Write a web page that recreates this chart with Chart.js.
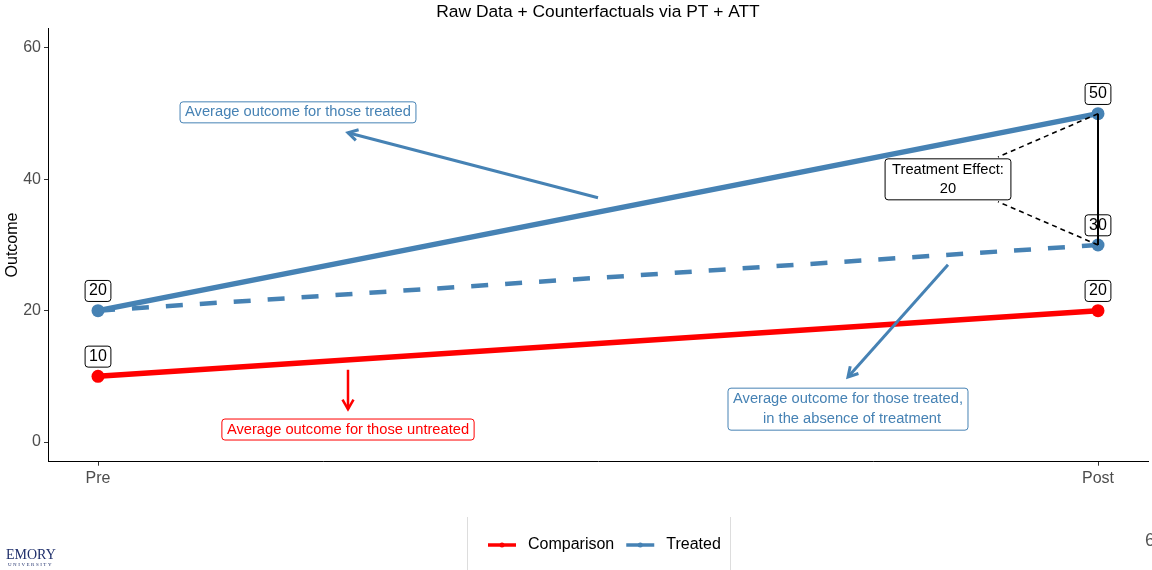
<!DOCTYPE html>
<html>
<head>
<meta charset="utf-8">
<script src="https://cdn.jsdelivr.net/npm/chart.js@4.4.1/dist/chart.umd.min.js"></script>
<style>
  html, body { margin: 0; padding: 0; background: #ffffff; }
  #wrap { position: relative; width: 1152px; height: 570px; }
</style>
</head>
<body>
<div id="wrap"><canvas id="chart" width="1152" height="570"></canvas></div>
<script>
// Periods on the x axis and the group means in each period
const categories = ['Pre', 'Post'];
const comparison = [10, 20];
const treated = [20, 50];
const counterfactual = [20, 30];
const yTicks = [0, 20, 40, 60];

const chartTitle = 'Raw Data + Counterfactuals via PT + ATT';

// Annotation text and anchors (data units: x = period index, y = outcome)
const treatedNote = { text: ['Average outcome for those treated'], x: 0.2, y: 50.2 };
const treatedArrow = { from: [0.5, 37.2], to: [0.25, 47.1] };
const untreatedNote = { text: ['Average outcome for those untreated'], x: 0.25, y: 1.9 };
const untreatedArrow = { from: [0.25, 11.0], to: [0.25, 5.0] };
const cfNote = { text: ['Average outcome for those treated,', '  in the absence of treatment'], x: 0.75, y: 5.0 };
const cfArrow = { from: [0.85, 27.0], to: [0.75, 9.9] };
const effectNote = { text: ['Treatment Effect:', String(treated[1] - counterfactual[1])], x: 0.85, y: 40.0 };

const BLUE = '#4682B4';
const RED = '#FF0000';
const FONT = '"Liberation Sans", Arial, Helvetica, sans-serif';

const toPts = arr => arr.map((v, i) => ({ x: i, y: v }));

function roundRect(ctx, x, y, w, h, r) {
  ctx.beginPath();
  ctx.moveTo(x + r, y);
  ctx.lineTo(x + w - r, y);
  ctx.quadraticCurveTo(x + w, y, x + w, y + r);
  ctx.lineTo(x + w, y + h - r);
  ctx.quadraticCurveTo(x + w, y + h, x + w - r, y + h);
  ctx.lineTo(x + r, y + h);
  ctx.quadraticCurveTo(x, y + h, x, y + h - r);
  ctx.lineTo(x, y + r);
  ctx.quadraticCurveTo(x, y, x + r, y);
  ctx.closePath();
}

// Boxed text label centred on (cx, cy)
function labelBox(ctx, lines, cx, cy, color, size, padX, padY, lineH) {
  ctx.save();
  ctx.font = size + 'px ' + FONT;
  let w = 0;
  lines.forEach(l => { w = Math.max(w, ctx.measureText(l).width); });
  const bw = w + padX * 2;
  const bh = lines.length * lineH + padY * 2;
  const x = cx - bw / 2, y = cy - bh / 2;
  roundRect(ctx, x, y, bw, bh, 3);
  ctx.fillStyle = '#ffffff';
  ctx.fill();
  ctx.lineWidth = 1;
  ctx.strokeStyle = color;
  ctx.stroke();
  ctx.fillStyle = color;
  ctx.textAlign = 'center';
  ctx.textBaseline = 'middle';
  lines.forEach((l, i) => {
    ctx.fillText(l, cx, y + padY + lineH * (i + 0.5));
  });
  ctx.restore();
  return { x, y, w: bw, h: bh };
}

function arrow(ctx, x1, y1, x2, y2, color, width, head) {
  ctx.save();
  ctx.strokeStyle = color;
  ctx.lineWidth = width;
  ctx.lineCap = 'butt';
  ctx.beginPath();
  ctx.moveTo(x1, y1);
  ctx.lineTo(x2, y2);
  ctx.stroke();
  const a = Math.atan2(y2 - y1, x2 - x1);
  const spread = Math.PI / 6;
  ctx.lineJoin = 'miter';
  ctx.beginPath();
  ctx.moveTo(x2 - head * Math.cos(a - spread), y2 - head * Math.sin(a - spread));
  ctx.lineTo(x2, y2);
  ctx.lineTo(x2 - head * Math.cos(a + spread), y2 - head * Math.sin(a + spread));
  ctx.stroke();
  ctx.restore();
}

const notesPlugin = {
  id: 'notes',
  afterDatasetsDraw(chart) {
    const ctx = chart.ctx;
    const xs = chart.scales.x, ys = chart.scales.y;
    const px = v => xs.getPixelForValue(v);
    const py = v => ys.getPixelForValue(v);

    // title centred over the plotting panel
    const area = chart.chartArea;
    ctx.save();
    ctx.font = '17.4px ' + FONT;
    ctx.fillStyle = '#000000';
    ctx.textAlign = 'center';
    ctx.textBaseline = 'middle';
    ctx.fillText(chartTitle, (area.left + area.right) / 2, 12);
    ctx.restore();

    // value labels sitting just above each point
    const valueLabels = [
      [0, comparison[0]], [1, comparison[1]],
      [0, treated[0]], [1, treated[1]],
      [1, counterfactual[1]]
    ];
    valueLabels.forEach(([i, v]) => {
      labelBox(ctx, [String(v)], px(i), py(v + 3), '#000000', 16, 4, 2, 17);
    });

    // arrows and their notes
    arrow(ctx, px(treatedArrow.from[0]), py(treatedArrow.from[1]), px(treatedArrow.to[0]), py(treatedArrow.to[1]), BLUE, 3, 11);
    labelBox(ctx, treatedNote.text, px(treatedNote.x), py(treatedNote.y), BLUE, 14.7, 5, 2, 17);

    arrow(ctx, px(untreatedArrow.from[0]), py(untreatedArrow.from[1]), px(untreatedArrow.to[0]), py(untreatedArrow.to[1]), RED, 2.5, 11);
    labelBox(ctx, untreatedNote.text, px(untreatedNote.x), py(untreatedNote.y), RED, 14.7, 5, 2, 17);

    arrow(ctx, px(cfArrow.from[0]), py(cfArrow.from[1]), px(cfArrow.to[0]), py(cfArrow.to[1]), BLUE, 3, 11);
    labelBox(ctx, cfNote.text, px(cfNote.x), py(cfNote.y), BLUE, 14.7, 5, 1, 20);

    // treatment effect: gap between observed and counterfactual at Post
    const xPost = px(1);
    ctx.save();
    ctx.strokeStyle = '#000000';
    ctx.lineWidth = 1.6;
    ctx.setLineDash([5, 4]);
    ctx.beginPath();
    ctx.moveTo(xPost, py(treated[1]));
    ctx.lineTo(px(0.9), py(effectNote.y + 3.4));
    ctx.moveTo(xPost, py(counterfactual[1]));
    ctx.lineTo(px(0.9), py(effectNote.y - 3.4));
    ctx.stroke();
    ctx.setLineDash([]);
    ctx.lineWidth = 2;
    ctx.beginPath();
    ctx.moveTo(xPost, py(treated[1]));
    ctx.lineTo(xPost, py(counterfactual[1]));
    ctx.stroke();
    ctx.restore();
    labelBox(ctx, effectNote.text, px(effectNote.x), py(effectNote.y), '#000000', 14.7, 7, 1, 19.5);
  },
  afterDraw(chart) {
    const ctx = chart.ctx;
    ctx.save();
    // legend panel
    ctx.strokeStyle = '#dddddd';
    ctx.lineWidth = 1;
    ctx.beginPath();
    ctx.moveTo(467.5, 517); ctx.lineTo(467.5, 570);
    ctx.moveTo(730.5, 517); ctx.lineTo(730.5, 570);
    ctx.stroke();
    const items = chart.data.datasets.filter(d => d.inLegend);
    let x = 488;
    const y = 545;
    ctx.font = '16px ' + FONT;
    ctx.textBaseline = 'middle';
    items.forEach(d => {
      ctx.strokeStyle = d.borderColor;
      ctx.lineWidth = 3.5;
      ctx.beginPath();
      ctx.moveTo(x, y); ctx.lineTo(x + 28, y);
      ctx.stroke();
      ctx.fillStyle = d.borderColor;
      ctx.beginPath();
      ctx.arc(x + 14, y, 2.5, 0, Math.PI * 2);
      ctx.fill();
      ctx.fillStyle = '#000000';
      ctx.textAlign = 'left';
      ctx.fillText(d.label, x + 40, y);
      x += 40 + ctx.measureText(d.label).width + 12;
    });

    // footer: university wordmark and page number
    ctx.fillStyle = '#1f2f6b';
    ctx.textAlign = 'left';
    ctx.textBaseline = 'alphabetic';
    ctx.font = '14px "Liberation Serif", "DejaVu Serif", serif';
    ctx.fillText('EMORY', 6, 559);
    ctx.font = '5px "Liberation Serif", "DejaVu Serif", serif';
    const uni = 'UNIVERSITY';
    let ux = 8;
    for (const ch of uni) { ctx.fillText(ch, ux, 565.5); ux += ctx.measureText(ch).width + 1.5; }
    ctx.fillStyle = '#555555';
    ctx.font = '18px ' + FONT;
    ctx.fillText('6', 1145, 546);
    ctx.restore();
  }
};

new Chart(document.getElementById('chart'), {
  type: 'line',
  data: {
    datasets: [
      {
        label: 'Counterfactual',
        data: toPts(counterfactual),
        borderColor: BLUE,
        backgroundColor: BLUE,
        borderWidth: 4.5,
        borderDash: [17, 17],
        pointRadius: [0, 6.5],
        pointBorderWidth: 0,
        inLegend: false
      },
      {
        label: 'Comparison',
        data: toPts(comparison),
        borderColor: RED,
        backgroundColor: RED,
        borderWidth: 5.5,
        pointRadius: 6.5,
        pointBorderWidth: 0,
        inLegend: true
      },
      {
        label: 'Treated',
        data: toPts(treated),
        borderColor: BLUE,
        backgroundColor: BLUE,
        borderWidth: 5.5,
        pointRadius: 6.5,
        pointBorderWidth: 0,
        inLegend: true
      }
    ]
  },
  options: {
    responsive: false,
    animation: false,
    layout: { autoPadding: false, padding: { left: 0, right: 4, top: 28.3, bottom: 0 } },
    plugins: {
      legend: { display: false },
      tooltip: { enabled: false },
      title: { display: false }
    },
    scales: {
      x: {
        type: 'linear',
        min: -0.05,
        max: 1.05,
        afterBuildTicks(scale) { scale.ticks = categories.map((c, i) => ({ value: i })); },
        afterFit(scale) { scale.height = 108.3; },
        ticks: {
          callback: v => categories[v],
          color: '#4d4d4d',
          font: { family: FONT, size: 16 },
          padding: 3,
          maxRotation: 0
        },
        grid: { drawOnChartArea: false, drawTicks: true, tickLength: 4, color: '#333333' },
        border: { display: true, color: '#000000', width: 1 }
      },
      y: {
        min: -3,
        max: 63,
        afterBuildTicks(scale) { scale.ticks = yTicks.map(v => ({ value: v })); },
        afterFit(scale) { scale.width = 48; },
        ticks: {
          color: '#4d4d4d',
          font: { family: FONT, size: 16 },
          padding: 3
        },
        grid: { drawOnChartArea: false, drawTicks: true, tickLength: 4, color: '#333333' },
        border: { display: true, color: '#000000', width: 1 },
        title: {
          display: true,
          text: 'Outcome',
          color: '#000000',
          font: { family: FONT, size: 16 },
          padding: { top: 3, bottom: 0 }
        }
      }
    }
  },
  plugins: [notesPlugin]
});
</script>
</body>
</html>
